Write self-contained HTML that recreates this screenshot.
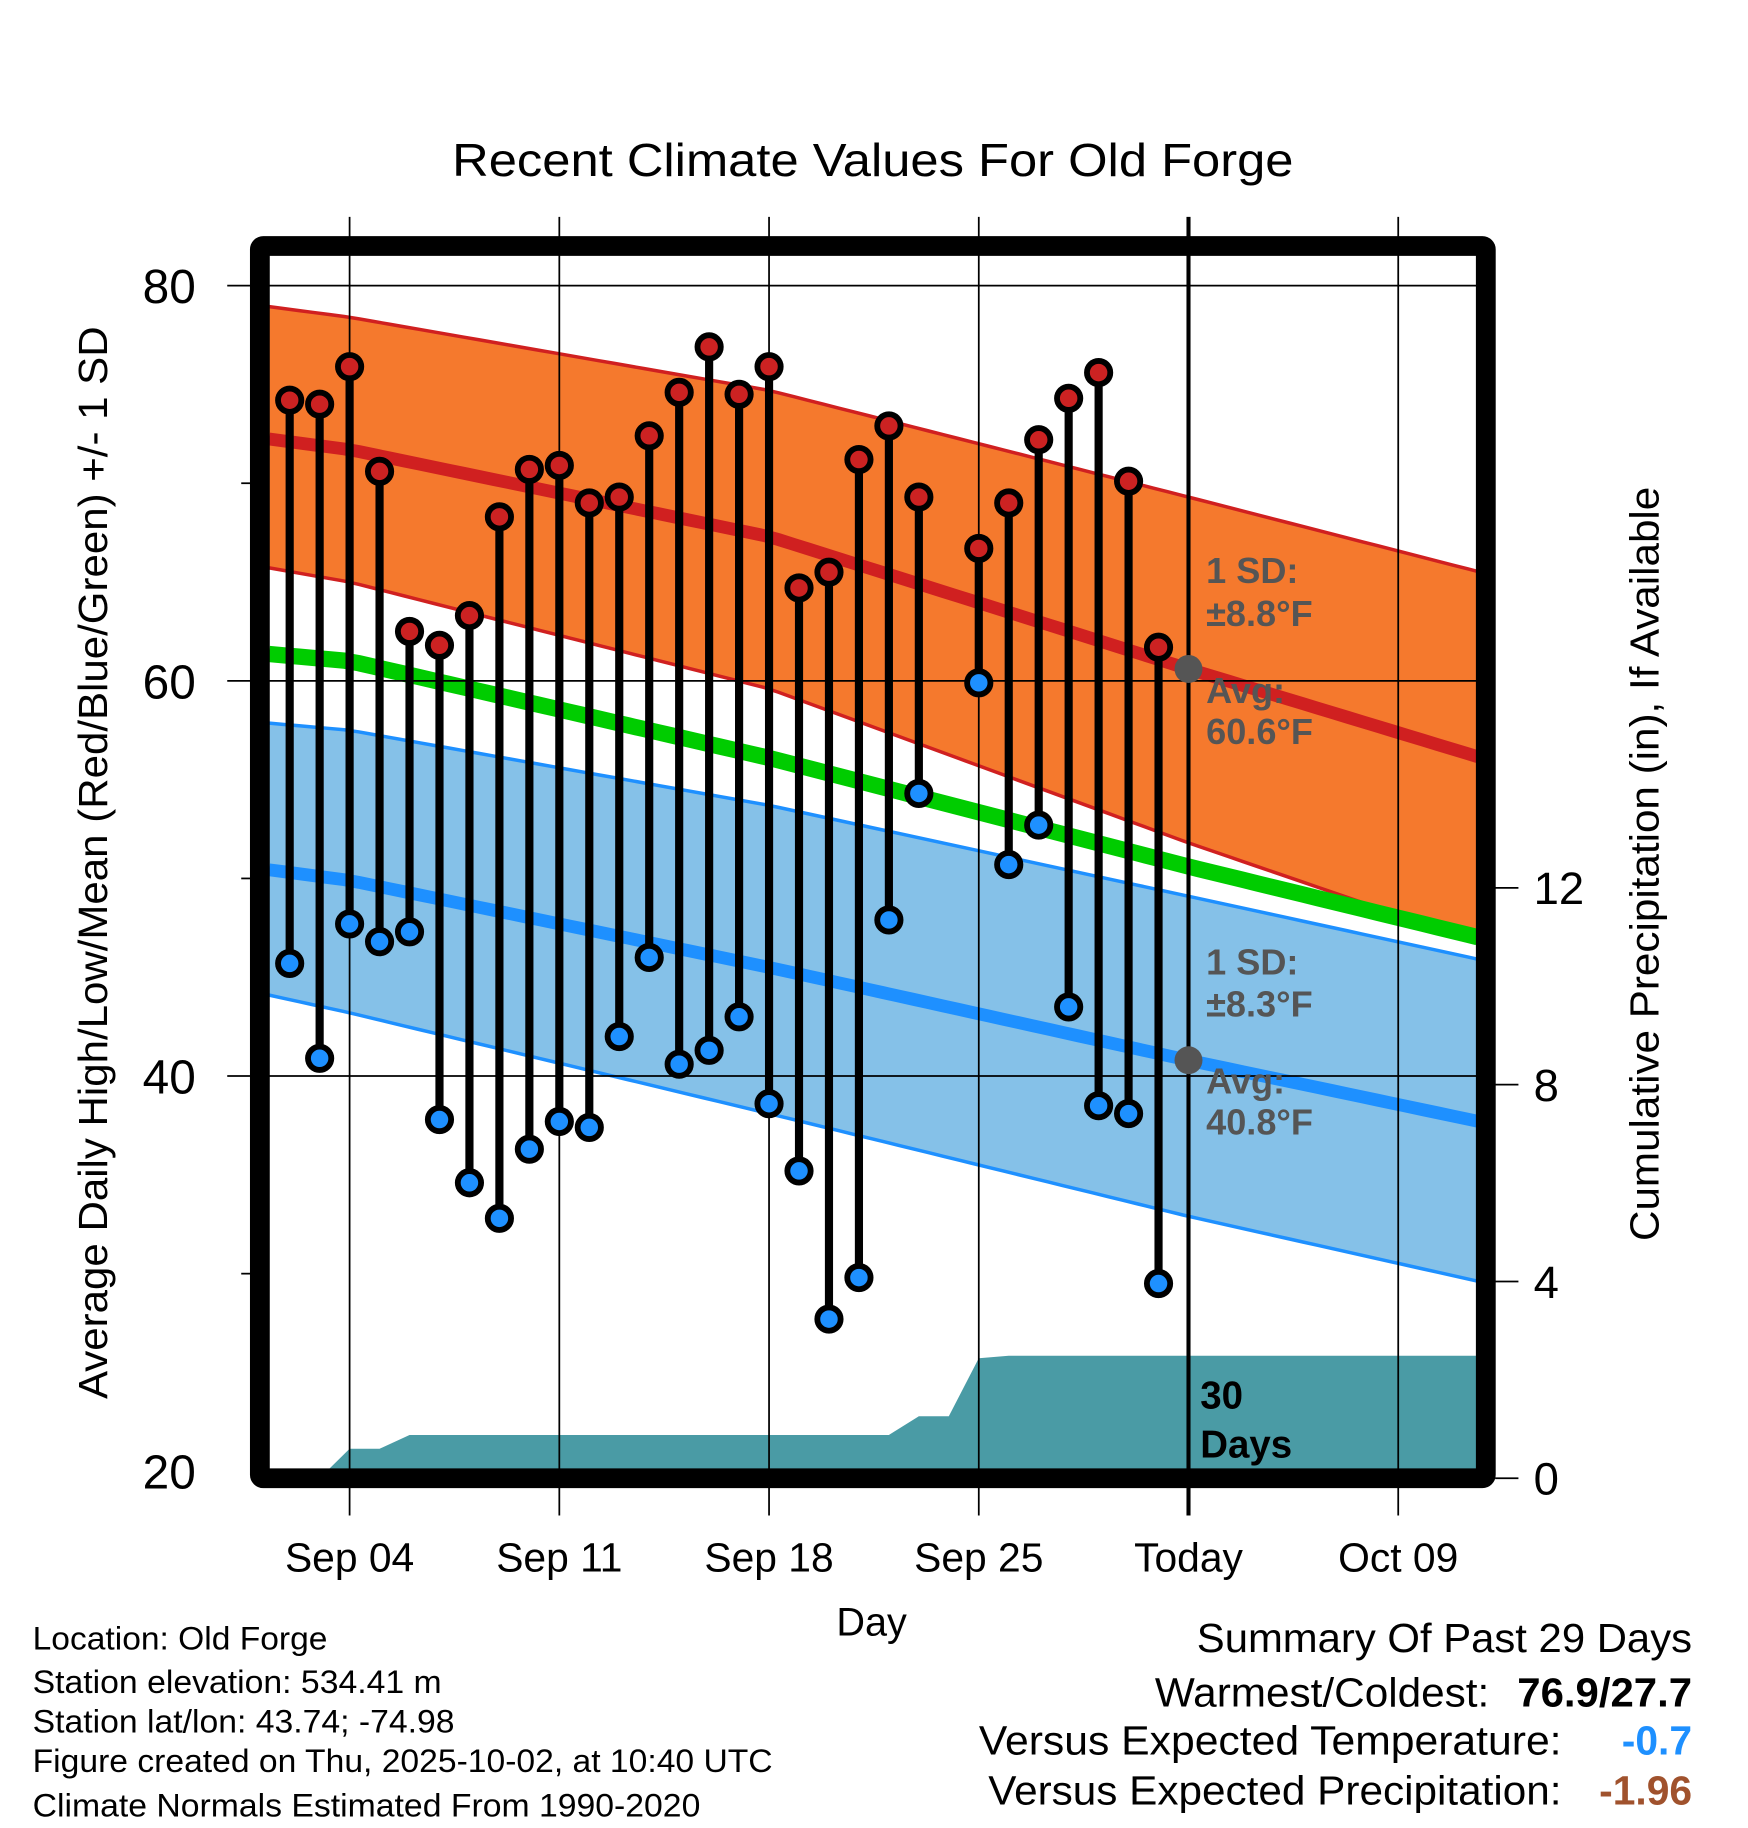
<!DOCTYPE html>
<html><head><meta charset="utf-8"><style>
html,body{margin:0;padding:0;background:#fff}
svg{display:block;font-family:"Liberation Sans",Arial,sans-serif}
</style></head><body>
<svg id="chart" width="1748" height="1828" viewBox="0 0 1500 1568" preserveAspectRatio="none" xmlns="http://www.w3.org/2000/svg">
<rect width="1500" height="1568" fill="#fff"/>
<text x="749" y="151" font-size="40" text-anchor="middle" textLength="722" lengthAdjust="spacingAndGlyphs">Recent Climate Values For Old Forge</text>
<g id="plot"></g>
<g id="fg"></g>
<text transform="translate(92,740) rotate(-90)" font-size="35" text-anchor="middle" textLength="920" lengthAdjust="spacingAndGlyphs">Average Daily High/Low/Mean (Red/Blue/Green) +/- 1 SD</text>
<text transform="translate(1423,741) rotate(-90)" font-size="35" text-anchor="middle" textLength="647" lengthAdjust="spacingAndGlyphs">Cumulative Precipitation (in), If Available</text>
<text x="748" y="1403" font-size="34" text-anchor="middle">Day</text>
<g font-size="28">
<text x="28" y="1415" textLength="253" lengthAdjust="spacingAndGlyphs">Location: Old Forge</text>
<text x="28" y="1452" textLength="351" lengthAdjust="spacingAndGlyphs">Station elevation: 534.41 m</text>
<text x="28" y="1486" textLength="362" lengthAdjust="spacingAndGlyphs">Station lat/lon: 43.74; -74.98</text>
<text x="28" y="1520" textLength="635" lengthAdjust="spacingAndGlyphs">Figure created on Thu, 2025-10-02, at 10:40 UTC</text>
<text x="28" y="1558" textLength="573" lengthAdjust="spacingAndGlyphs">Climate Normals Estimated From 1990-2020</text>
</g>
<g font-size="35">
<text x="1452" y="1417" text-anchor="end" textLength="425" lengthAdjust="spacingAndGlyphs">Summary Of Past 29 Days</text>
<text x="1278" y="1464" text-anchor="end" textLength="287" lengthAdjust="spacingAndGlyphs">Warmest/Coldest:</text>
<text x="1452" y="1464" text-anchor="end" font-weight="bold" textLength="150" lengthAdjust="spacingAndGlyphs">76.9/27.7</text>
<text x="1340" y="1505" text-anchor="end" textLength="500" lengthAdjust="spacingAndGlyphs">Versus Expected Temperature:</text>
<text x="1452" y="1505" text-anchor="end" font-weight="bold" fill="#1E90FF">-0.7</text>
<text x="1340" y="1548" text-anchor="end" textLength="492" lengthAdjust="spacingAndGlyphs">Versus Expected Precipitation:</text>
<text x="1452" y="1548" text-anchor="end" font-weight="bold" fill="#A0522D">-1.96</text>
</g>
</svg>
<script>
// Observed data (day index: days since Aug 31, i.e. 2 = Sep 2)
const obsDays  = [2,3,4,5,6,7,8,9,10,11,12,13,14,15,16,17,18,19,20,21,22,23,25,26,27,28,29,30,31];
const obsHigh  = [74.2,74.0,75.9,70.6,62.5,61.8,63.3,68.3,70.7,70.9,69.0,69.3,72.4,74.6,76.9,74.5,75.9,64.7,65.5,71.2,72.9,69.3,66.7,69.0,72.2,74.3,75.6,70.1,61.7];
const obsLow   = [45.7,40.9,47.7,46.8,47.3,37.8,34.6,32.8,36.3,37.7,37.4,42.0,46.0,40.6,41.3,43.0,38.6,35.2,27.7,29.8,47.9,54.3,59.9,50.7,52.7,43.5,38.5,38.1,29.5];
// Normals at control days
const normDays   = [1,4,18,32,42];
const upperHigh  = [79.0,78.4,74.7,69.3,65.4];
const avgHigh    = [72.3,71.7,67.3,60.6,56.0];
const lowerHigh  = [65.8,65.0,59.6,51.8,46.6];
const meanTemp   = [61.4,61.0,56.1,50.6,46.9];
const upperLow   = [57.9,57.5,53.7,49.1,45.8];
const avgLow     = [50.5,49.9,45.5,40.8,37.6];
const lowerLow   = [44.2,43.2,38.1,32.9,29.5];
// Cumulative precipitation
const precipDays = [3,4,5,6,22,23,24,25,26,42];
const precipVals = [0,0.6,0.6,0.88,0.88,1.26,1.26,2.44,2.49,2.49];
const yTicks = [20,40,60,80];
const y2Ticks = [0,4,8,12];
const xTickDays = [4,11,18,25,32,39];
const xTickLabels = ['Sep 04','Sep 11','Sep 18','Sep 25','Today','Oct 09'];

const NS='http://www.w3.org/2000/svg';
const L=231,R=1268,T=218,B=1262;
const xs=d=>300+(d-4)*25.71;
const ys=v=>1262-(v-20)*16.95;
const ys2=p=>1268-p*42.2;
const dStart=(L-300)/25.71+4, dEnd=(R-300)/25.71+4;
const plot=document.getElementById('plot'), fg=document.getElementById('fg');
function mk(tag,attrs,parent){const e=document.createElementNS(NS,tag);for(const k in attrs)e.setAttribute(k,attrs[k]);(parent||plot).appendChild(e);return e;}
function interp(arr,d){for(let i=0;i<normDays.length-1;i++){if(d<=normDays[i+1]){const t=(d-normDays[i])/(normDays[i+1]-normDays[i]);return arr[i]+t*(arr[i+1]-arr[i]);}}const n=normDays.length;const t=(d-normDays[n-2])/(normDays[n-1]-normDays[n-2]);return arr[n-2]+t*(arr[n-1]-arr[n-2]);}
function pts(arr){const p=[];for(let d=dStart;d<dEnd;d+=0.5)p.push([xs(d),ys(interp(arr,d))]);p.push([R,ys(interp(arr,dEnd))]);return p;}
function band(a,b,fill,name){const p1=pts(a),p2=pts(b).reverse();const e=mk('polygon',{points:p1.concat(p2).map(p=>p.join(',')).join(' '),fill:fill});

}
function line(a,color,w,name){const e=mk('polyline',{points:pts(a).map(p=>p.join(',')).join(' '),fill:'none',stroke:color,'stroke-width':w});

}

band(upperHigh,lowerHigh,'#F5792D','high-sd-band');
band(upperLow,lowerLow,'#85C1E8','low-sd-band');
line(upperHigh,'#D02020',3,'high-upper-sd-line');
line(lowerHigh,'#D02020',3,'high-lower-sd-line');
line(upperLow,'#1E90FF',3,'low-upper-sd-line');
line(lowerLow,'#1E90FF',3,'low-lower-sd-line');
line(meanTemp,'#00CC00',14,'mean-temp-line');
line(avgHigh,'#D02020',11,'avg-high-line');
line(avgLow,'#1E90FF',11,'avg-low-line');

// precip area
{let p=[[xs(precipDays[0]),ys2(0)]];for(let i=0;i<precipDays.length;i++)p.push([Math.min(R,xs(precipDays[i])),ys2(precipVals[i])]);p.push([R,ys2(precipVals[precipVals.length-1])]);p.push([R,B+6]);p.push([xs(precipDays[0]),B+6]);
const e=mk('polygon',{points:p.map(q=>q.join(',')).join(' '),fill:'#4A9BA5'});

}

// gridlines
yTicks.forEach(v=>{if(v>20){const g=mk('line',{x1:195,x2:1283,y1:ys(v),y2:ys(v),stroke:'#000','stroke-width':1.5});

}
const t=mk('text',{x:168,y:ys(v)+15,'font-size':41,'text-anchor':'end'});t.textContent=v;

});
[30,50,70].forEach(v=>{mk('line',{x1:207,x2:217,y1:ys(v),y2:ys(v),stroke:'#000','stroke-width':1.5});});
y2Ticks.forEach(p=>{const g=mk('line',{x1:1283,x2:1303,y1:ys2(p),y2:ys2(p),stroke:'#000','stroke-width':1.5});


const t=mk('text',{x:1316,y:ys2(p)+14,'font-size':39});t.textContent=p;

});
xTickDays.forEach((d,i)=>{const today=xTickLabels[i]==='Today';
const g=mk('line',{x1:xs(d),x2:xs(d),y1:186,y2:1300,stroke:'#000','stroke-width':today?3.5:1.5},today?fg:plot);


const t=mk('text',{x:xs(d),y:1348,'font-size':35,'text-anchor':'middle'});t.textContent=xTickLabels[i];

});

// stems and dots
obsDays.forEach((d,i)=>{const x=xs(d);
const s=mk('line',{x1:x,x2:x,y1:ys(obsHigh[i]),y2:ys(obsLow[i]),stroke:'#000','stroke-width':7},fg);


const h=mk('circle',{cx:x,cy:ys(obsHigh[i]),r:10,fill:'#CC2222',stroke:'#000','stroke-width':5},fg);


const l=mk('circle',{cx:x,cy:ys(obsLow[i]),r:10,fill:'#1E90FF',stroke:'#000','stroke-width':5},fg);

});

// frame
{const f=mk('rect',{x:223,y:211,width:1052,height:1057,fill:'none',stroke:'#000','stroke-width':17,rx:3},fg);

}
// today markers
[interp(avgHigh,32),interp(avgLow,32)].forEach(v=>{const c=mk('circle',{cx:xs(32),cy:ys(v),r:12,fill:'#555'},fg);

});
// annotations
const ann=[['1 SD:',1035,500],['±8.8°F',1035,537],['Avg:',1035,603],['60.6°F',1035,638],['1 SD:',1035,836],['±8.3°F',1035,872],['Avg:',1035,938],['40.8°F',1035,973]];
ann.forEach(a=>{const t=mk('text',{x:a[1],y:a[2],'font-size':31,'font-weight':'bold',fill:'#555'},fg);t.textContent=a[0];

});
[['30',1208],['Days',1250]].forEach(a=>{const t=mk('text',{x:1030,y:a[1],'font-size':33,'font-weight':'bold',fill:'#000'},fg);t.textContent=a[0];

});
</script>
</body></html>
